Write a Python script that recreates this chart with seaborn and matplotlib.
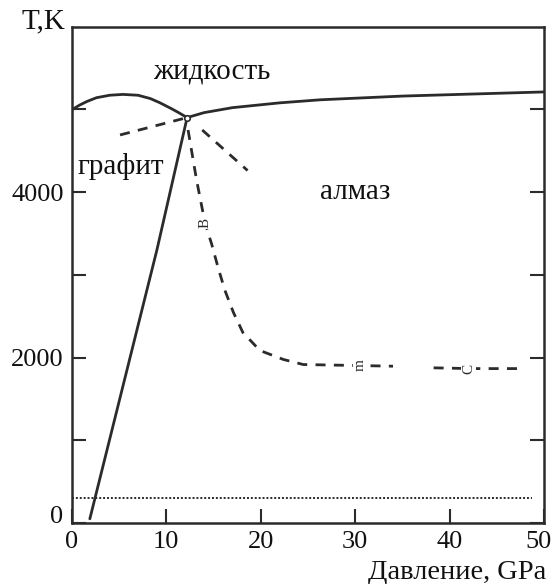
import matplotlib
matplotlib.use("Agg")
import seaborn as sns
from matplotlib import pyplot as plt
from matplotlib.transforms import ScaledTranslation

# graphite / liquid melting curve
graphite_melt_p = [0, 0.8, 1.6, 2.6, 4.0, 5.4, 7.0, 8.3, 9.3, 10.5, 11.3, 12.2]
graphite_melt_t = [4995, 5050, 5095, 5140, 5170, 5180, 5170, 5130, 5080, 5010, 4960, 4900]

# diamond / liquid melting curve
diamond_melt_p = [12.2, 14.0, 17.0, 22.0, 26.3, 35.0, 50.0]
diamond_melt_t = [4900, 4960, 5020, 5078, 5115, 5160, 5210]

# graphite / diamond equilibrium line
equil_p = [1.9, 9.0, 12.2]
equil_t = [50, 3300, 4900]

# metastable extensions (dashed)
meta_graphite_p = [5.1, 12.2]
meta_graphite_t = [4690, 4900]
meta_diamond_p = [13.8, 18.6]
meta_diamond_t = [4750, 4260]

# kinetic boundary curve B-m-C (dashed, with a gap)
kin_p1 = [12.3, 13.2, 14.1, 14.8, 15.5, 16.2, 17.1, 18.1, 19.9, 22.4, 24.5, 30.3, 34.0]
kin_t1 = [4750, 4145, 3624, 3370, 3078, 2812, 2545, 2303, 2085, 1976, 1915, 1903, 1895]
kin_p2 = [38.3, 42.2, 48.0]
kin_t2 = [1875, 1866, 1866]

# room temperature line
room_p = [0, 48.7]
room_t = [300, 300]

triple_p = [12.2]
triple_t = [4900]

x_ticks = [0, 10, 20, 30, 40, 50]
y_ticks = [0, 2000, 4000]
y_minor = [1000, 3000, 5000]

regions = ["жидкость", "графит", "алмаз"]
region_p = [14.8, 5.2, 30.0]
region_t = [5460, 4310, 4000]

curve_marks = ["В", "m", "С"]
mark_p = [14.1, 30.5, 42.0]
mark_t = [3624, 1903, 1866]

sns.set_style("ticks")
plt.rcParams["font.family"] = ["Liberation Serif", "DejaVu Serif"]

fig = plt.figure(figsize=(5.53, 5.84), dpi=100)
ax = fig.add_axes([0.130, 0.1045, 0.854, 0.850])

ink = "#2b2b2b"
txt = "#111111"
solid = dict(color=ink, lw=2.0, sort=False, estimator=None)

sns.lineplot(x=graphite_melt_p, y=graphite_melt_t, ax=ax, **solid)
sns.lineplot(x=diamond_melt_p, y=diamond_melt_t, ax=ax, **solid)
sns.lineplot(x=equil_p, y=equil_t, ax=ax, **solid)

for xs, ys in [(meta_graphite_p, meta_graphite_t), (meta_diamond_p, meta_diamond_t),
               (kin_p1, kin_t1), (kin_p2, kin_t2)]:
    sns.lineplot(x=xs, y=ys, ax=ax, linestyle=(0, (3.6, 3.0)), **solid)

sns.lineplot(x=room_p, y=room_t, ax=ax, color=ink, lw=1.4, linestyle=(0, (1, 1)),
             sort=False, estimator=None)

ax.plot(triple_p, triple_t, "o", ms=4, mfc="white", mec=ink, mew=1.2, zorder=5)

for name, p, t in zip(regions, region_p, region_t):
    ax.text(p, t, name, fontsize=21, ha="center", va="center", color=txt)

for name, p, t in zip(curve_marks, mark_p, mark_t):
    ax.text(p, t, name, fontsize=11, ha="center", va="center", rotation=90,
            color=ink, bbox=dict(fc="white", ec="none", pad=0.5))

ax.set_xlim(0, 50)
ax.set_ylim(0, 6000)
ax.set_xticks(x_ticks)
ax.set_yticks(y_ticks)
ax.set_yticks(y_minor, minor=True)
ax.tick_params(axis="both", which="both", direction="in", length=10, width=1.5,
               color=ink, labelsize=19, top=False, right=True, labelcolor=txt)
ax.tick_params(axis="x", pad=6)
ax.tick_params(axis="y", pad=6)
ax.set_xlabel("")
ax.set_ylabel("")
for side in ax.spines.values():
    side.set_visible(True)
    side.set_color(ink)
    side.set_linewidth(1.8)

# keep the last x tick label inside the figure, as in the original
last = ax.get_xticklabels()[-1]
last.set_horizontalalignment("right")
last.set_transform(last.get_transform() + ScaledTranslation(0.07, 0, fig.dpi_scale_trans))

# lift the "0" label on the temperature axis slightly
first = ax.get_yticklabels()[0]
first.set_transform(first.get_transform() + ScaledTranslation(0, 0.08, fig.dpi_scale_trans))

ax.text(-0.061, 1.01, "T,K", transform=ax.transAxes, fontsize=21,
        ha="center", va="center", color=txt)
ax.text(1.004, -0.099, "Давление, GPa", transform=ax.transAxes, fontsize=20.5,
        ha="right", va="center", color=txt)

fig.savefig("out.png", dpi=100)
